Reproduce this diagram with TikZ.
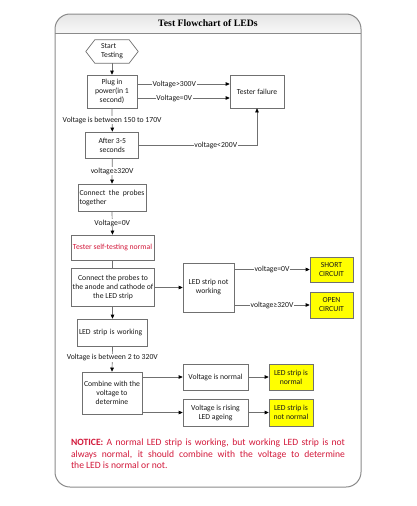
\documentclass[tikz,border=0pt]{standalone}
\usepackage{fontspec}
\setmainfont{Carlito}
\newfontfamily\titlefont{Liberation Serif}
\usetikzlibrary{arrows.meta,calc}
\definecolor{boxgray}{HTML}{707070}
\definecolor{framegray}{HTML}{8A8A8A}
\definecolor{noticered}{HTML}{D2183A}
\definecolor{hiyellow}{HTML}{FFFF00}
\tikzset{
  box/.style={draw=boxgray, line width=0.7pt, align=center, inner sep=1.2pt,
    font=\fontsize{7.7}{9}\selectfont, text=black!90},
  ybox/.style={box, fill=hiyellow},
  arr/.style={draw=boxgray, line width=0.7pt, -{Triangle[length=4pt,width=3.6pt,fill=black,color=black]}},
  ln/.style={draw=boxgray, line width=0.7pt},
  lab/.style={fill=white, inner sep=0.6pt, font=\fontsize{7.7}{9}\selectfont, text=black!90},
}
\begin{document}
\begin{tikzpicture}[x=1pt,y=-1pt]
\useasboundingbox (0,0) rectangle (416,506);
% frame
\begin{scope}
\clip[rounded corners=15pt] (55,14) rectangle (361,487);
\shade[top color=black!10, bottom color=black!3] (55,14) rectangle (361,33);
\end{scope}
\draw[framegray, line width=0.9pt] (55,33) -- (361,33);
\draw[framegray, line width=1pt, rounded corners=15pt] (55,14) rectangle (361,487);
\node[font=\titlefont\fontsize{9.8}{11}\selectfont\bfseries] (title) at (208,23.5) {Test Flowchart of LEDs};

% start hexagon
\node[align=left, font=\fontsize{7.7}{9}\selectfont, text=black!90, minimum width=52pt, minimum height=23pt, inner sep=0pt] (start) at (112,51.5) {Start\\Testing};
\draw[ln] (start.west) -- ([xshift=9pt]start.north west) -- ([xshift=-9pt]start.north east) -- (start.east) -- ([xshift=-9pt]start.south east) -- ([xshift=9pt]start.south west) -- cycle;

\node[box, minimum width=50pt, minimum height=33pt] (plug) at (112,91.5) {Plug in\\power(in 1\\second)};
\node[box, minimum width=54pt, minimum height=33pt] (tf) at (257,91.5) {Tester failure};
\node[box, minimum width=53pt, minimum height=26pt] (after) at (112.3,145) {After 3-5\\seconds};
\node[box, minimum width=68pt, minimum height=27pt, text width=65pt, align=justify] (ptog) at (112,197.5) {Connect the probes together};
\node[box, minimum width=83pt, minimum height=25pt, text=noticered] (self) at (112.5,247.5) {Tester self-testing normal};
\node[box, minimum width=83pt, minimum height=38pt] (anode) at (113,287) {Connect the probes to\\the anode and cathode of\\the LED strip};
\node[box, minimum width=51pt, minimum height=49pt] (nw) at (208.5,287.5) {LED strip not\\working};
\node[ybox, minimum width=43pt, minimum height=25pt] (short) at (331.5,269.5) {SHORT\\CIRCUIT};
\node[ybox, minimum width=43pt, minimum height=26pt] (open) at (331.5,305) {OPEN\\CIRCUIT};
\node[box, minimum width=70pt, minimum height=27pt, text width=67pt, align=left] (work) at (112.5,332.5) {LED strip is working};
\node[box, minimum width=60pt, minimum height=42pt] (comb) at (112,393) {Combine with the\\voltage to\\determine};
\node[box, minimum width=65pt, minimum height=26pt] (vnorm) at (215.5,377) {Voltage is normal};
\node[box, minimum width=65pt, minimum height=27pt] (vrise) at (215.5,412.5) {Voltage is rising\\LED ageing};
\node[ybox, minimum width=44pt, minimum height=26pt] (lnorm) at (291,377) {LED strip is\\normal};
\node[ybox, minimum width=44pt, minimum height=27pt] (lnot) at (291,412.5) {LED strip is\\not normal};

% connectors
\draw[arr] (start.south) -- (plug.north);
\draw[arr] ($(plug.east)+(0,-7.5)$) -- node[lab, pos=0.4]{Voltage>300V} ($(tf.west)+(0,-7.5)$);
\draw[arr] ($(plug.east)+(0,6.5)$) -- node[lab, pos=0.4]{Voltage=0V} ($(tf.west)+(0,6.5)$);
\draw[arr] (plug.south) -- node[lab]{Voltage is between 150 to 170V} (after.north);
\draw[arr] (after.east) -- node[lab, pos=0.65]{voltage<200V} (after.east -| tf.south) -- (tf.south);
\draw[arr] (after.south) -- node[lab]{voltage≥320V} (ptog.north);
\draw[arr] (ptog.south) -- node[lab]{Voltage=0V} (self.north);
\draw[ln] (self.south) -- (self.south |- anode.north);
\draw[arr] (anode.east |- nw.west) -- (nw.west);
\draw[arr] (nw.east |- short.west) -- node[lab]{voltage=0V} (short.west);
\draw[arr] (nw.east |- open.west) -- node[lab]{voltage≥320V} (open.west);
\draw[arr] (anode.south -| work.north) -- (work.north);
\draw[arr] (work.south) -- node[lab, pos=0.45]{Voltage is between 2 to 320V} (comb.north);
\draw[arr] (comb.east |- vnorm.west) -- (vnorm.west);
\draw[arr] (comb.east |- vrise.west) -- (vrise.west);
\draw[arr] (vnorm.east) -- (lnorm.west);
\draw[arr] (vrise.east) -- (lnot.west);

% notice
\node[text width=274pt, align=justify, inner sep=0pt, text=noticered, font=\fontsize{9.6}{11.5}\selectfont] (notice) at (208,454) {\textbf{NOTICE:} A normal LED strip is working, but working LED strip is not\linebreak always normal, it should combine with the voltage to determine\linebreak the LED is normal or not.};
\end{tikzpicture}
\end{document}
